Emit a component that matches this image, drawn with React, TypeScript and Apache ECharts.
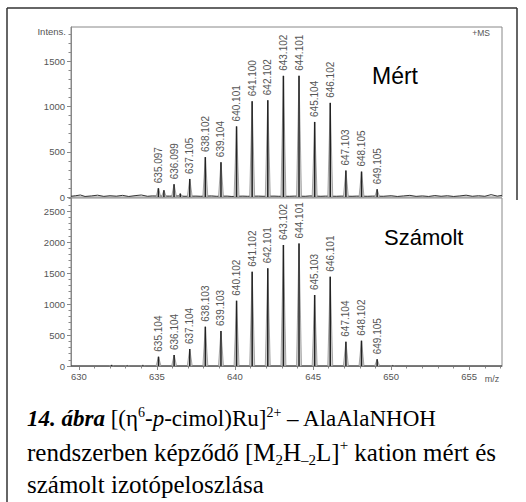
import React, { useEffect, useRef } from "react";
import * as echarts from "echarts";

// ---- data ----
const measuredMz = [635.097, 636.099, 637.105, 638.102, 639.104, 640.101, 641.1, 642.102, 643.102, 644.101, 645.104, 646.102, 647.103, 648.105, 649.105];
const measuredInt = [97, 141, 200, 441, 385, 781, 1059, 1070, 1340, 1340, 830, 1041, 292, 281, 85];
const measuredMinor = [[635.45, 75], [636.5, 38]];
const measuredNoise = [
  [629.5, 8], [629.8, 14], [630.1, 22], [630.4, 6], [630.8, 12], [631.2, 20], [631.6, 7], [632.0, 14], [632.4, 9],
  [632.8, 18], [633.2, 6], [633.6, 15], [634.0, 22], [634.4, 8], [634.7, 12], [635.3, 10], [635.8, 10], [636.3, 12],
  [636.8, 8], [637.5, 10], [637.8, 8], [638.5, 12], [638.8, 8], [639.5, 10], [639.8, 6], [640.5, 10], [640.8, 8],
  [641.5, 10], [641.8, 8], [642.5, 10], [642.8, 8], [643.5, 8], [643.8, 10], [644.5, 8], [644.8, 12], [645.5, 8],
  [645.8, 10], [646.5, 8], [646.8, 10], [647.5, 8], [647.8, 10], [648.5, 8], [648.8, 10], [649.5, 8], [650.0, 14],
  [650.4, 6], [650.8, 12], [651.2, 18], [651.6, 7], [652.0, 12], [652.4, 6], [652.8, 16], [653.2, 8], [653.6, 14],
  [654.0, 6], [654.4, 12], [654.8, 20], [655.2, 8], [655.6, 14], [656.0, 8], [656.4, 26], [656.8, 10], [657.1, 18],
];
const calcMz = [635.104, 636.104, 637.104, 638.103, 639.103, 640.102, 641.102, 642.101, 643.102, 644.101, 645.103, 646.101, 647.104, 648.102, 649.105];
const calcInt = [150, 177, 274, 634, 565, 1053, 1521, 1575, 1952, 1978, 1145, 1441, 392, 408, 108];
const calcMinor = [[632.1, 16], [633.1, 10], [634.1, 14], [650.1, 10]];

const xTickLabels = [630, 635, 640, 645, 650, 655];
const yTopTickLabels = [0, 500, 1000, 1500];
const yBottomTickLabels = [0, 500, 1000, 1500, 2000, 2500];

const X_MIN = 629.5;
const X_MAX = 657.1;
const TOP_MAX = 1880;
const BOTTOM_MAX = 2710;

const range = (a: number, b: number, s: number) => {
  const out: number[] = [];
  for (let v = a; v <= b + 1e-9; v += s) out.push(v);
  return out;
};

const SANS = '"Liberation Sans", Arial, sans-serif';
const SERIF = '"Liberation Serif", "Times New Roman", serif';
const GRAY = "#555";
const AXIS = "#888";

function peakSeries(xi: number, yi: number, mz: number[], vals: number[], labeled: boolean) {
  return {
    type: "custom",
    xAxisIndex: xi,
    yAxisIndex: yi,
    clip: false,
    data: mz.map((m, i) => [m, vals[i]]),
    renderItem: (params: any, api: any) => {
      const m = api.value(0);
      const h = api.value(1);
      const base = api.coord([m, 0]);
      const top = api.coord([m, h]);
      const l = api.coord([m - 0.16, 0]);
      const r = api.coord([m + 0.16, 0]);
      const children: any[] = [
        { type: "polygon", shape: { points: [l, top, r] }, style: { fill: "#d4d4d4", stroke: "#8a8a8a", lineWidth: 0.7 } },
        { type: "line", shape: { x1: top[0], y1: top[1], x2: base[0], y2: base[1] }, style: { stroke: "#222", lineWidth: 1.5 } },
      ];
      if (labeled) {
        children.push({
          type: "text",
          x: top[0],
          y: top[1] - 5,
          rotation: Math.PI / 2,
          style: { text: mz[params.dataIndex].toFixed(3), fill: GRAY, font: `10px ${SANS}`, align: "left", verticalAlign: "middle" },
        });
      }
      return { type: "group", children };
    },
  };
}

export default function App() {
  const ref = useRef<HTMLDivElement>(null);
  useEffect(() => {
    document.body.style.margin = "0";
    const chart = echarts.init(ref.current!, undefined, { renderer: "svg" });
    const labelStyle = { fontSize: 9.5, color: GRAY, fontFamily: SANS, formatter: (v: number) => String(v) };
    const option: any = {
      animation: false,
      backgroundColor: "#fff",
      grid: [
        { left: 71, top: 27, width: 431, height: 170, show: true, borderColor: AXIS, borderWidth: 1, containLabel: false, outerBoundsMode: "none" },
        { left: 71, top: 198, width: 431, height: 168, show: true, borderColor: AXIS, borderWidth: 1, containLabel: false, outerBoundsMode: "none" },
      ],
      xAxis: [
        { type: "value", gridIndex: 0, min: X_MIN, max: X_MAX, axisLine: { show: false }, axisTick: { show: false }, axisLabel: { show: false }, splitLine: { show: false } },
        {
          type: "value", gridIndex: 1, min: X_MIN, max: X_MAX, position: "bottom",
          axisLine: { show: true, onZero: false, lineStyle: { color: AXIS } },
          axisTick: { show: true, length: 4, customValues: xTickLabels, lineStyle: { color: AXIS } },
          axisLabel: { show: true, customValues: xTickLabels, margin: 5, ...labelStyle },
          splitLine: { show: false },
        },
        {
          type: "value", gridIndex: 1, min: X_MIN, max: X_MAX, position: "bottom", offset: 0,
          axisLine: { show: false },
          axisTick: { show: true, length: 2.5, customValues: range(630, 657, 1), lineStyle: { color: AXIS } },
          axisLabel: { show: false },
          splitLine: { show: false },
        },
      ],
      yAxis: [
        {
          type: "value", gridIndex: 0, min: 0, max: TOP_MAX, position: "left",
          axisLine: { show: true, lineStyle: { color: AXIS } },
          axisTick: { show: true, length: 4, customValues: yTopTickLabels, lineStyle: { color: AXIS } },
          axisLabel: { show: true, customValues: yTopTickLabels, margin: 6, ...labelStyle },
          splitLine: { show: false },
        },
        {
          type: "value", gridIndex: 0, min: 0, max: TOP_MAX, position: "left", offset: 0,
          axisLine: { show: false },
          axisTick: { show: true, length: 2.5, customValues: range(100, 1800, 100), lineStyle: { color: AXIS } },
          axisLabel: { show: false },
          splitLine: { show: false },
        },
        {
          type: "value", gridIndex: 1, min: 0, max: BOTTOM_MAX, position: "left",
          axisLine: { show: true, lineStyle: { color: AXIS } },
          axisTick: { show: true, length: 4, customValues: yBottomTickLabels, lineStyle: { color: AXIS } },
          axisLabel: { show: true, customValues: yBottomTickLabels, margin: 6, ...labelStyle },
          splitLine: { show: false },
        },
        {
          type: "value", gridIndex: 1, min: 0, max: BOTTOM_MAX, position: "left", offset: 0,
          axisLine: { show: false },
          axisTick: { show: true, length: 2.5, customValues: range(100, 2700, 100), lineStyle: { color: AXIS } },
          axisLabel: { show: false },
          splitLine: { show: false },
        },
      ],
      series: [
        { type: "line", xAxisIndex: 0, yAxisIndex: 0, data: measuredNoise, symbol: "none", lineStyle: { color: "#333", width: 1 }, z: 1 },
        { type: "line", xAxisIndex: 1, yAxisIndex: 2, data: [[X_MIN, 0], [X_MAX, 0]], symbol: "none", lineStyle: { color: "#333", width: 1 }, z: 1 },
        peakSeries(0, 0, measuredMz, measuredInt, true),
        peakSeries(0, 0, measuredMinor.map((d) => d[0]), measuredMinor.map((d) => d[1]), false),
        peakSeries(1, 2, calcMz, calcInt, true),
        peakSeries(1, 2, calcMinor.map((d) => d[0]), calcMinor.map((d) => d[1]), false),
      ],
      graphic: [
        { type: "line", shape: { x1: 7, y1: 8, x2: 517, y2: 8 }, style: { stroke: "#333", lineWidth: 1.5 } },
        { type: "line", shape: { x1: 7, y1: 8, x2: 7, y2: 502 }, style: { stroke: "#333", lineWidth: 1.5 } },
        { type: "line", shape: { x1: 517, y1: 8, x2: 517, y2: 200 }, style: { stroke: "#333", lineWidth: 1.5 } },
        { type: "text", x: 66, y: 31, style: { text: "Intens.", fill: GRAY, font: `9.5px ${SANS}`, align: "right", verticalAlign: "middle" } },
        { type: "text", x: 490, y: 33, style: { text: "+MS", fill: GRAY, font: `8.5px ${SANS}`, align: "right", verticalAlign: "middle" } },
        { type: "text", x: 492, y: 379, style: { text: "m/z", fill: GRAY, font: `9px ${SANS}`, align: "center", verticalAlign: "middle" } },
        { type: "text", x: 372, y: 76, style: { text: "Mért", fill: "#000", font: `23px ${SANS}`, align: "left", verticalAlign: "middle" } },
        { type: "text", x: 384, y: 237, style: { text: "Számolt", fill: "#000", font: `22px ${SANS}`, align: "left", verticalAlign: "middle" } },
        {
          type: "text", x: 27, y: 418,
          style: {
            text: "{b|14. ábra} [(η{sup|6}-{i|p}-cimol)Ru]{sup|2+} – AlaAlaNHOH",
            fill: "#000", font: `23px ${SERIF}`, lineHeight: 25, align: "left", verticalAlign: "middle",
            rich: {
              b: { fontWeight: "bold", fontStyle: "italic", fontSize: 23, fontFamily: SERIF, lineHeight: 25 },
              i: { fontStyle: "italic", fontSize: 23, fontFamily: SERIF, lineHeight: 25 },
              sup: { fontSize: 14, fontFamily: SERIF, verticalAlign: "top", lineHeight: 14 },
            },
          },
        },
        {
          type: "text", x: 27, y: 452,
          style: {
            text: "rendszerben képződő [M{sub|2}H{sub|–2}L]{sup|+} kation mért és",
            fill: "#000", font: `25px ${SERIF}`, lineHeight: 30, align: "left", verticalAlign: "middle",
            rich: {
              sub: { fontSize: 15, fontFamily: SERIF, verticalAlign: "bottom", lineHeight: 15 },
              sup: { fontSize: 15, fontFamily: SERIF, verticalAlign: "top", lineHeight: 15 },
            },
          },
        },
        { type: "text", x: 27, y: 484, style: { text: "számolt izotópeloszlása", fill: "#000", font: `25px ${SERIF}`, align: "left", verticalAlign: "middle" } },
      ],
    };
    chart.setOption(option);
    return () => chart.dispose();
  }, []);
  return <div ref={ref} style={{ width: 526, height: 502, overflow: "hidden" }} />;
}
